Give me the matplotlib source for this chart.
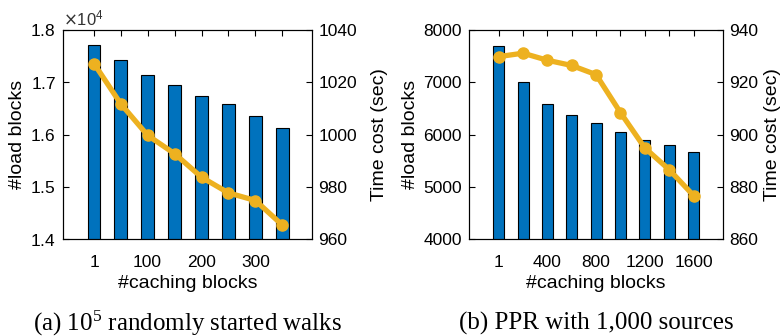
import matplotlib
matplotlib.use("Agg")
import matplotlib.pyplot as plt
from matplotlib.ticker import ScalarFormatter

# Panel (a): 10^5 randomly started walks
cache_a = [1, 50, 100, 150, 200, 250, 300, 350]
cache_a_labels = ["1", "", "100", "", "200", "", "300", ""]
load_a = [17713, 17427, 17134, 16949, 16732, 16586, 16363, 16127]
time_a = [1027.0, 1011.8, 999.7, 992.7, 983.7, 977.7, 974.8, 965.4]

# Panel (b): PPR with 1,000 sources
cache_b = [1, 200, 400, 600, 800, 1000, 1200, 1400, 1600]
cache_b_labels = ["1", "", "400", "", "800", "", "1200", "", "1600"]
load_b = [7701, 7013, 6586, 6382, 6229, 6057, 5904, 5796, 5675]
time_b = [929.8, 931.1, 928.4, 926.4, 922.9, 908.4, 894.9, 886.6, 876.7]

BLUE = "#0072BD"
GOLD = "#EDB120"
SANS = "Liberation Sans"
SERIF = "Liberation Serif"
TICK_FS = 12.5
LABEL_FS = 14
CAPTION_FS = 18

plt.rcParams["font.family"] = SANS

fig = plt.figure(figsize=(7.84, 3.36), dpi=100)


def panel(rect, xs, xlabels, loads, times, xlim, width, ylim, yticks,
          y2lim, y2ticks, caption, right_label_x, sci=False):
    ax = fig.add_axes(rect)
    ax.bar(xs, loads, width=width, color=BLUE, edgecolor="black",
           linewidth=0.8, zorder=2)
    ax.set_xlim(*xlim)
    ax.set_ylim(*ylim)
    ax.set_yticks(yticks)
    ax.set_xticks(xs)
    ax.set_xticklabels(xlabels)
    if sci:
        fmt = ScalarFormatter(useMathText=True)
        fmt.set_powerlimits((0, 0))
        ax.yaxis.set_major_formatter(fmt)
        ax.yaxis.get_offset_text().set_fontsize(12)
        ax.yaxis.get_offset_text().set_color("#333333")
    ax.tick_params(direction="in", length=4, width=0.8, top=True,
                   right=False, labelsize=TICK_FS)
    ax.tick_params(axis="y", pad=5)
    ax.tick_params(axis="x", pad=11)
    for s in ax.spines.values():
        s.set_linewidth(0.8)
    ax.set_ylabel("#load blocks", fontsize=LABEL_FS, labelpad=3)
    ax.set_xlabel("#caching blocks", fontsize=LABEL_FS, labelpad=4)

    ax2 = ax.twinx()
    ax2.plot(xs, times, color=GOLD, linewidth=3.8, marker="o",
             markersize=8, zorder=3)
    ax2.set_ylim(*y2lim)
    ax2.set_yticks(y2ticks)
    ax2.tick_params(direction="in", length=4, width=0.8, labelsize=TICK_FS,
                    pad=4.5)
    ax2.set_ylabel("Time cost (sec)", fontsize=LABEL_FS, rotation=90)
    ax2.yaxis.set_label_coords(right_label_x, 0.5)
    ax.text(0.5, -0.40, caption, transform=ax.transAxes, ha="center",
            va="center", fontsize=CAPTION_FS, family=SERIF)
    return ax, ax2


panel([0.080, 0.288, 0.318, 0.623], cache_a, cache_a_labels,
      load_a, time_a, (-57.5, 405), 23,
      (14000, 18000), [14000, 15000, 16000, 17000, 18000],
      (960, 1040), [960, 980, 1000, 1020, 1040],
      r"(a) $\mathdefault{10^5}$ randomly started walks", 1.238, sci=True)

panel([0.598, 0.288, 0.3245, 0.623], cache_b, cache_b_labels,
      load_b, time_b, (-245, 1844), 90,
      (4000, 8000), [4000, 5000, 6000, 7000, 8000],
      (860, 940), [860, 880, 900, 920, 940],
      "(b) PPR with 1,000 sources", 1.16)

fig.savefig("out.png", dpi=100)
